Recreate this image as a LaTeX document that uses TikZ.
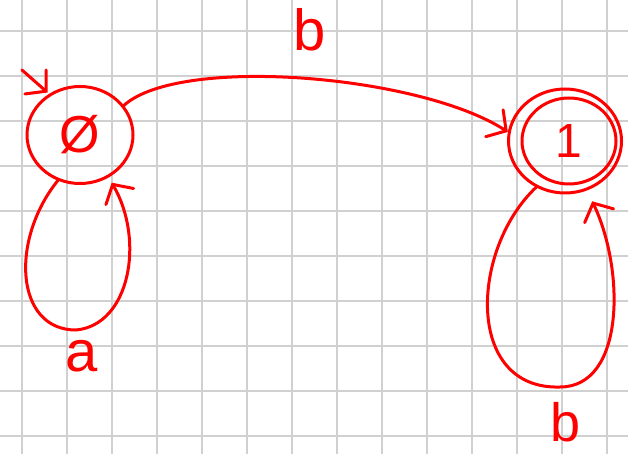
\documentclass[tikz,border=0pt]{standalone}
\usepackage{fontspec}
\setmainfont{Liberation Sans}
\usetikzlibrary{arrows.meta,shapes.geometric}
\definecolor{ink}{RGB}{255,0,0}
\definecolor{gridc}{RGB}{208,208,208}
\tikzset{
  gridline/.style={draw=gridc, line width=2pt},
  pen/.style={draw=ink, line width=3pt, line cap=round, line join=round},
  arr/.style={pen, -{Straight Barb[length=14pt,width=32pt,line cap=round]}},
  statebox/.style={pen, ellipse, inner sep=0pt, text=ink},
  lbl/.style={text=ink, font=\fontsize{58}{58}\selectfont, inner sep=0pt}
}
\begin{document}
\begin{tikzpicture}[x=1pt,y=-1pt]
\useasboundingbox (0,0) rectangle (628,454);
\fill[white] (0,0) rectangle (628,454);
\foreach \i in {0,...,13} \draw[gridline] ({22+45*\i},0) -- ({22+45*\i},454);
\foreach \j in {0,...,9} \draw[gridline] (0,{31+45*\j}) -- (628,{31+45*\j});

\node[statebox, minimum width=106pt, minimum height=97pt, font=\fontsize{52}{52}\selectfont] (s0) at (80,135) {Ø};
\node[statebox, minimum width=113pt, minimum height=104pt] (s1) at (565,141) {};
\node[statebox, minimum width=94pt, minimum height=86pt, font=\fontsize{48}{48}\selectfont] (s1i) at (569,141) {1};

\coordinate (st) at (22,70);
\draw[arr, shorten >=2pt] (st) -- (s0.127);

\draw[arr] (s0.34) .. controls (180,55) and (420,75) .. (s1.171);
\node[lbl] (lb) at (310,30) {b};

\draw[arr, shorten >=6pt] (s0.-116) .. controls (10,240) and (15,330) .. (76,330)
   .. controls (130,325) and (145,240) .. (s0.-56);
\node[lbl] (la) at (82,356) {a};

\draw[arr, shorten >=12pt] (s1.-122) .. controls (470,250) and (465,390) .. (560,387)
   .. controls (625,387) and (625,270) .. (s1.-66);
\node[lbl, font=\fontsize{54}{54}\selectfont] (lb2) at (566,422) {b};
\end{tikzpicture}
\end{document}
